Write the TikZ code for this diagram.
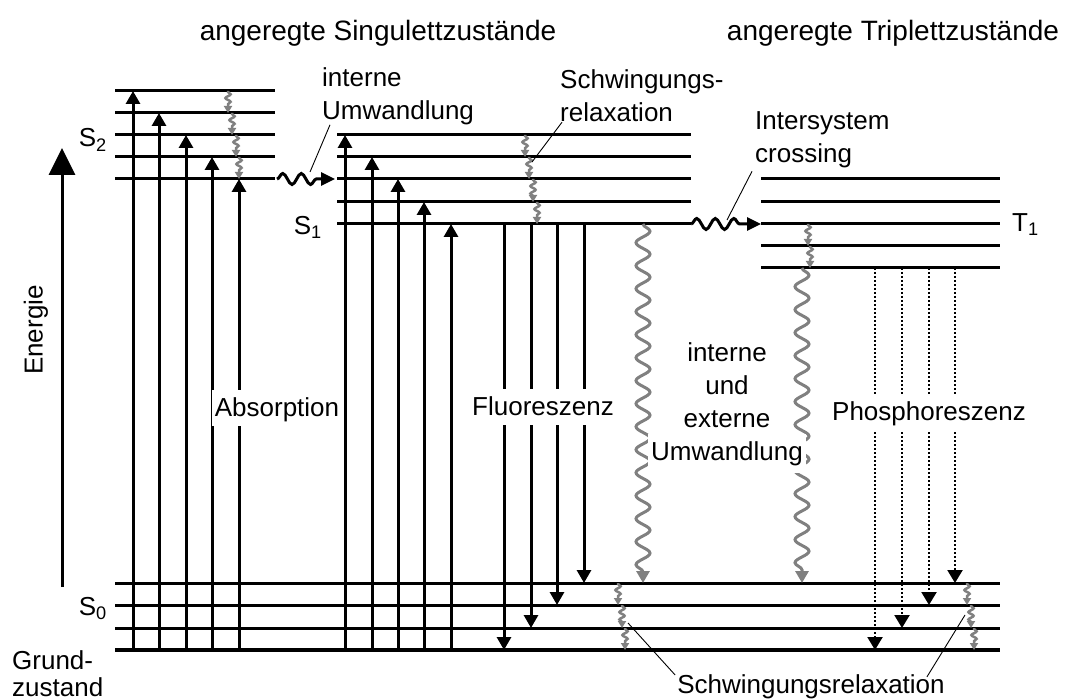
\documentclass[tikz,border=0pt]{standalone}
\usepackage{fontspec}
\setmainfont{Liberation Sans}
\usetikzlibrary{arrows.meta,decorations.pathmorphing,positioning}
\definecolor{relaxgrau}{RGB}{128,128,128}
\tikzset{
  niveau/.style={line width=3pt},
  grundniveau/.style={line width=4.2pt},
  strahl/.style={line width=3pt,-{Triangle[width=14pt,length=13pt]}},
  phosph/.style={line width=2.2pt,dash pattern=on 2pt off 2pt,
    -{Triangle[width=15pt,length=13pt]}},
  welle/.style={line width=3pt,relaxgrau,-{Triangle[width=13pt,length=12pt]},
    decorate,decoration={snake,segment length=23pt,amplitude=7pt,post length=11pt}},
  kringel/.style={line width=2.5pt,relaxgrau,-{Triangle[width=8pt,length=7pt]},
    decorate,decoration={snake,segment length=7.5pt,amplitude=2.6pt,
    pre length=1pt,post length=6pt}},
  uebertritt/.style={line width=3pt,-{Triangle[width=13pt,length=14pt]},
    decorate,decoration={snake,segment length=18.5pt,amplitude=5.5pt,post length=14pt}},
  schrift/.style={font=\fontsize{26}{33}\selectfont},
  titel/.style={font=\fontsize{28}{33}\selectfont},
  etikett/.style={schrift,fill=white,text height=22pt,text depth=6pt,
    inner xsep=3pt,inner ysep=4pt},
  zeiger/.style={line width=0.9pt}
}

\begin{document}
\begin{tikzpicture}[x=1pt,y=-1pt]
\useasboundingbox (0,0) rectangle (1073,700);
% Schwingungsniveaus
\foreach \y in {91,113,135,157,179} \draw[niveau] (115,\y) -- (275,\y);
\foreach \y in {135,157,179,202,224} \draw[niveau] (337,\y) -- (691,\y);
\foreach \y in {179,202,224,246,268} \draw[niveau] (761,\y) -- (1000,\y);
\foreach \y in {583,605,628} \draw[niveau] (115,\y) -- (1000,\y);
\draw[grundniveau] (115,650) -- (1000,650);

% Energieachse
\draw[line width=3pt,-{Triangle[width=26pt,length=27pt]}] (62,587) -- (62,148);
\node[schrift,rotate=90] (energie) at (36,330) {Energie};

% Absorption, Fluoreszenz, Phosphoreszenz
\foreach \x/\y in {133/91,159/113,186/135,212/157,239/179,
                   345/135,372/157,398/179,424/202,451/224}
  \draw[strahl] (\x,650) -- (\x,\y);
\foreach \x/\y in {504/650,531/628,557/605,584/583} \draw[strahl] (\x,224) -- (\x,\y);
\foreach \x/\y in {875/650,902/628,929/605,955/583} \draw[phosph] (\x,268) -- (\x,\y);

% Schwingungsrelaxation
\foreach \x/\y/\l in {228/91/22,232/113/22,236/135/22,239/157/22,
                      525/135/22,529/157/22,533/179/23,537/202/22,
                      808/224/22,810/246/22,618/583/22,622/605/23,625/628/22,
                      967/583/22,971/605/23,974/628/22}
  \draw[kringel] (\x,\y) -- (\x,\y+\l);

% strahlungslose Uebergaenge
\draw[welle] (643,224) -- (643,583);
\draw[welle] (802,268) -- (802,583);
\draw[uebertritt] (277,179) -- (335,179);
\draw[uebertritt] (691,224) -- (761,224);

% Beschriftungen
\node[titel] (singulett) at (378,33) {angeregte Singulettzustände};
\node[titel] (triplett) at (893,33) {angeregte Triplettzustände};
\node[schrift,anchor=base east,inner sep=0pt] (s2) at (107,147) {S\textsubscript{2}};
\node[schrift,anchor=base east,inner sep=0pt] (s1) at (322,235) {S\textsubscript{1}};
\node[schrift,anchor=base east,inner sep=0pt] (s0) at (107,615) {S\textsubscript{0}};
\node[schrift,anchor=base west,inner sep=0pt] (t1) at (1012,232) {T\textsubscript{1}};
\node[font=\fontsize{26}{27}\selectfont,align=left,anchor=north west,inner sep=0pt]
  (grund) at (12,650) {Grund-\\zustand};

\node[etikett,anchor=base] (absorption) at (277,416) {Absorption};
\node[etikett,anchor=base] (fluoreszenz) at (543,415) {Fluoreszenz};
\node[etikett,anchor=base] (phosphoreszenz) at (929,420) {Phosphoreszenz};
\node[schrift,align=center,inner sep=0pt] (umwandlung) at (727,408)
  {interne\\und\\externe\\\colorbox{white}{\strut Umwandlung}};

\node[schrift,align=left,anchor=west,inner sep=0pt] (iu) at (322,96) {interne\\Umwandlung};
\node[schrift,align=left,anchor=west,inner sep=0pt] (sr) at (560,96) {Schwingungs-\\relaxation};
\node[schrift,align=left,anchor=west,inner sep=0pt] (isc) at (755,140) {Intersystem\\crossing};
\node[schrift,anchor=base,inner sep=0pt] (sr0) at (811,693) {Schwingungsrelaxation};

% Zeigerlinien
\coordinate (iuEnde) at (310,172);
\coordinate (srEnde) at (532,162);
\coordinate (iscEnde) at (727,220);
\coordinate (sr0links) at (628,623);
\coordinate (sr0rechts) at (965,615);
\draw[zeiger] ([xshift=8pt]iu.south west) -- (iuEnde);
\draw[zeiger] ([xshift=2pt]sr.south west) -- (srEnde);
\draw[zeiger] ([shift={(-3,3)}]isc.south west) -- (iscEnde);
\draw[zeiger] ([shift={(-2,1)}]sr0.north west) -- (sr0links);
\draw[zeiger] ([shift={(-18,3)}]sr0.north east) -- (sr0rechts);
\end{tikzpicture}
\end{document}
